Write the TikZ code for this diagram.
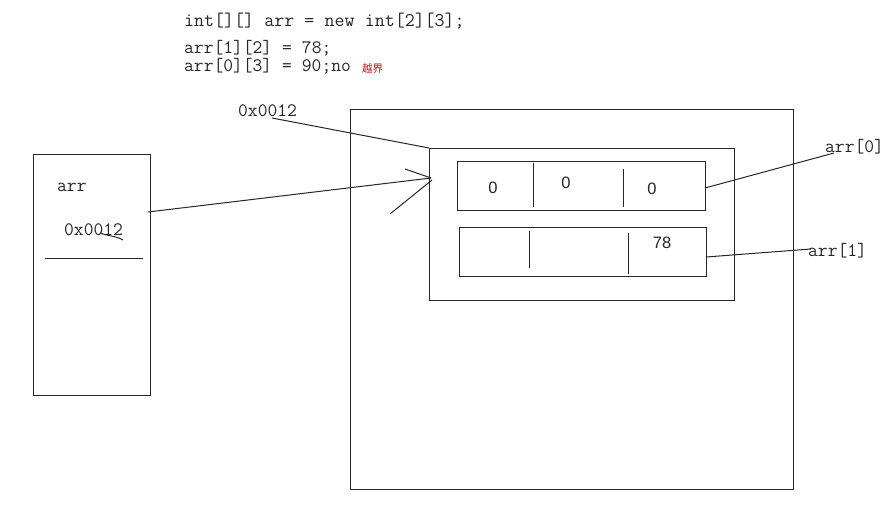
\documentclass[tikz,border=0pt]{standalone}
\usepackage{fontspec}
\newfontfamily\cjk{Noto Sans CJK SC}
\newfontfamily\cellfont{Liberation Sans}
\newfontfamily\codefont{Latin Modern Mono}
\newcommand\codestyle{\codefont\fontsize{19}{19}\selectfont\spaceskip=0.525em plus 0pt minus 0pt\relax}
\newcommand\codestylebig{\codefont\fontsize{19.4}{19.4}\selectfont\spaceskip=0.525em plus 0pt minus 0pt\relax}
\begin{document}
\begin{tikzpicture}[x=1pt,y=-1pt,
  ln/.style={line width=1pt,draw=black!85},
  box/.style={ln,draw,inner sep=0pt,anchor=north west},
  code/.style={font=\codestyle,anchor=base west,inner sep=0pt,text=black!85},
  cell/.style={font=\cellfont\fontsize{16.5}{16.5}\selectfont,inner sep=0pt,text=black!85}]
\useasboundingbox (0,0) rectangle (892,508);
% code
\node[code,font=\codestylebig] (c1) at (184,27) {int[][] arr = new int[2][3];};
\node[code] (c2) at (184,54) {arr[1][2] = 78;};
\node[code] (c3) at (184,72) {arr[0][3] = 90;no};
\node[anchor=base west,inner sep=0pt,text=red!90!black,font=\cjk\fontsize{10.5}{10.5}\selectfont] (oob) at (362,73) {越界};
% left stack box
\node[box,minimum width=117pt,minimum height=241pt] (stack) at (33,154) {};
\node[code] (arr) at (57,192) {arr};
\node[code] (addr) at (64,235) {0x0012};
\coordinate (sl1) at (45,258);
\coordinate (sl2) at (143,258);
\draw[ln] (sl1) -- (sl2);
\coordinate (sq1) at (100,233);
\coordinate (sq2) at (123,240);
\draw[ln] (sq1) .. controls (108,236) and (116,236) .. (sq2);
% heap
\node[box,minimum width=443pt,minimum height=380pt] (heap) at (350,109) {};
\node[box,minimum width=305pt,minimum height=152pt] (mid) at (429,148) {};
\node[box,minimum width=248pt,minimum height=49pt] (row0) at (457,161) {};
\node[box,minimum width=247pt,minimum height=49pt] (row1) at (459,227) {};
\coordinate (d0a) at (533,163); \coordinate (d0b) at (533,207);
\coordinate (d0c) at (623,169); \coordinate (d0d) at (623,207);
\draw[ln] (d0a) -- (d0b);
\draw[ln] (d0c) -- (d0d);
\coordinate (d1a) at (529,231); \coordinate (d1b) at (529,268);
\coordinate (d1c) at (628,233); \coordinate (d1d) at (628,274);
\draw[ln] (d1a) -- (d1b);
\draw[ln] (d1c) -- (d1d);
\node[cell] (v00) at (493,188) {0};
\node[cell] (v01) at (566,183) {0};
\node[cell] (v02) at (652,189) {0};
\node[cell] (v12) at (662,243) {78};
% labels
\node[code] (top) at (238,117) {0x0012};
\node[code] (a0) at (825,153) {arr[0]};
\node[code] (a1) at (808,256) {arr[1]};
% connectors
\coordinate (topl) at (272,118);
\draw[ln] (topl) -- (mid.north west);
\coordinate (s1) at (148,212);
\coordinate (tip) at (431,178);
\coordinate (b1) at (405,169);
\coordinate (b2) at (390,214);
\coordinate (b2e) at (432,180);
\draw[ln] (s1) -- (tip);
\draw[ln] (b1) -- (tip);
\draw[ln] (b2) -- (b2e);
\coordinate (r0e) at (705,188);
\coordinate (a0s) at (834,153);
\draw[ln] (r0e) -- (a0s);
\coordinate (r1e) at (706,257);
\coordinate (a1s) at (811,249);
\draw[ln] (r1e) -- (a1s);
\end{tikzpicture}
\end{document}
